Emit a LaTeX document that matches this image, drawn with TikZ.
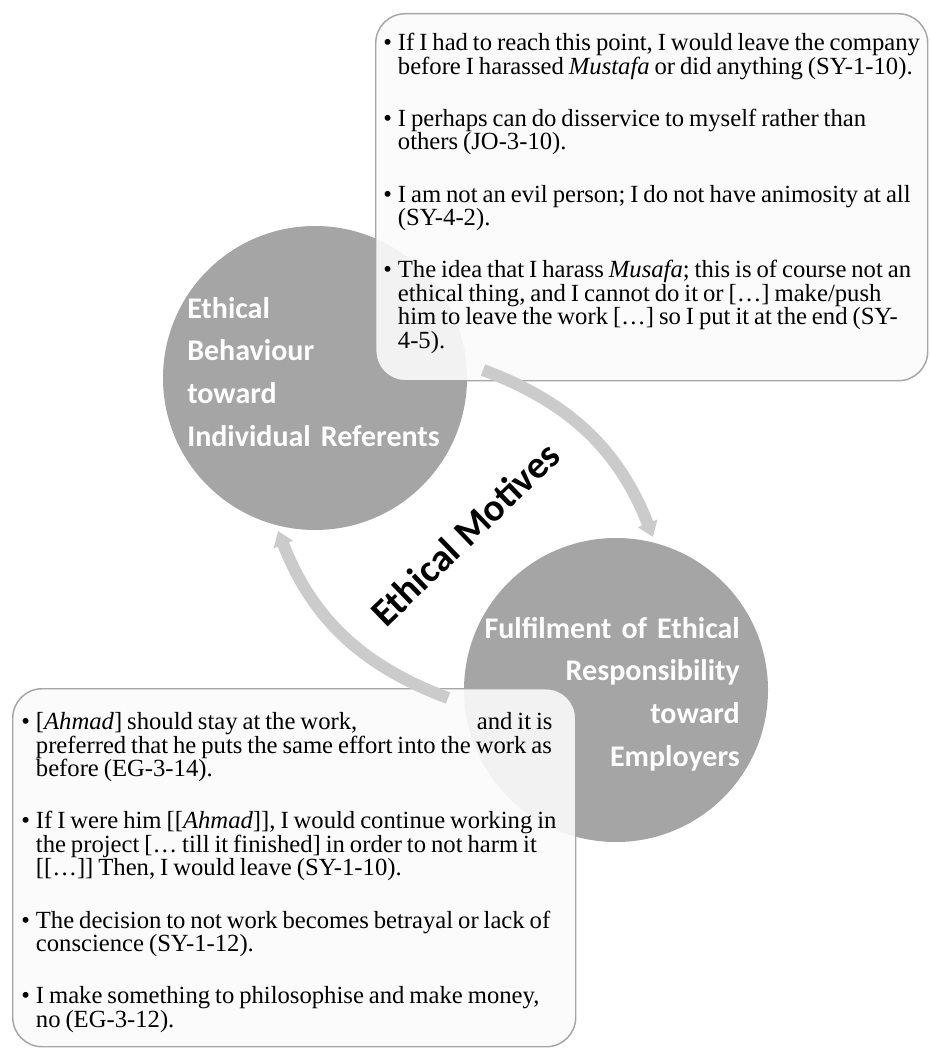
\documentclass[tikz,border=0pt]{standalone}
\usepackage{fontspec}
\setmainfont{Liberation Serif}
\newfontfamily\calibri{Carlito}
\usetikzlibrary{arrows.meta}
\definecolor{CircleGray}{HTML}{A5A5A5}
\definecolor{ArcGray}{HTML}{CBCBCB}
\definecolor{BoxEdge}{HTML}{A6A6A6}
\definecolor{BoxFill}{HTML}{FBFBFB}
\newcommand{\qitem}{\par\hangindent=11pt\hangafter=1\noindent\makebox[11pt][l]{\textbullet}}
\newcommand{\qgap}{\par\vskip 21.6pt}
\newcommand{\qbreak}{\hfil\break}

\begin{document}
\begin{tikzpicture}[x=.75pt,y=-.75pt,
  circlenode/.style={circle,fill=CircleGray,minimum size=228pt,inner sep=0pt},
  circlelabel/.style={font=\calibri\bfseries\fontsize{22.5}{32}\selectfont,text=white,inner sep=0pt,text width=210pt},
  quotebox/.style={draw=BoxEdge,line width=1.1pt,fill=BoxFill,fill opacity=.9,rounded corners=22pt,inner sep=0pt,anchor=north west},
  quotetext/.style={font=\fontsize{18.5}{17.6}\selectfont,inner sep=0pt,text width=425pt,align=left,anchor=north west},
  cyclearrow/.style={ArcGray,line width=9pt,-{Triangle[width=15pt,length=11pt]}}]
\useasboundingbox (0,0) rectangle (930,1048);

% Kreise
\node[circlenode] (refcircle) at (315,378) {};
\node[circlenode] (empcircle) at (616,690) {};

% Zitatboxen
\node[quotebox,minimum width=414pt,minimum height=275.25pt] (topbox) at (375,13) {};
\node[quotebox,minimum width=422.25pt,minimum height=268.5pt] (bottombox) at (12,688) {};

% Pfeile
\coordinate (rtail) at (483,370);
\coordinate (rhead) at (653,537);
\coordinate (ltail) at (448,698);
\coordinate (lhead) at (278,531);
\draw[cyclearrow] (rtail) to[bend left=24] (rhead);
\draw[cyclearrow] (ltail) to[bend left=24] (lhead);

% Beschriftungen
\node[circlelabel,align=left,anchor=base west] (reflabel) at (187,318)
  {Ethical\\Behaviour\\toward\\Individual Referents};
\node[circlelabel,align=right,anchor=base east] (emplabel) at (740,638)
  {Fulfilment of Ethical\\Responsibility\\toward\\Employers};
\node[rotate=44,inner sep=0pt,font=\calibri\bfseries\fontsize{29}{34}\selectfont] (motives) at (465,534) {Ethical Motives};

% Zitate
\node[quotetext] (topquotes) at (383,27) {\spaceskip=.2em plus .1em minus .02em
\qitem If I had to reach this point, I would leave the company\qbreak before I harassed \textit{Mustafa} or did anything (SY-1-10).
\qgap\qitem I perhaps can do disservice to myself rather than\qbreak others (JO-3-10).
\qgap\qitem I am not an evil person; I do not have animosity at all\qbreak (SY-4-2).
\qgap\qitem The idea that I harass \textit{Musafa}; this is of course not an\qbreak ethical thing, and I cannot do it or […] make/push\qbreak him to leave the work […] so I put it at the end (SY-\qbreak 4-5).\par};
\node[quotetext] (bottomquotes) at (21,706) {\spaceskip=.2em plus .1em minus .02em
\qitem [\textit{Ahmad}] should stay at the work,\hspace{86pt} and it is\qbreak preferred that he puts the same effort into the work as\qbreak before (EG-3-14).
\qgap\qitem If I were him [[\textit{Ahmad}]], I would continue working in\qbreak the project [… till it finished] in order to not harm it\qbreak [[…]] Then, I would leave (SY-1-10).
\qgap\qitem The decision to not work becomes betrayal or lack of\qbreak conscience (SY-1-12).
\qgap\qitem I make something to philosophise and make money,\qbreak no (EG-3-12).\par};
\end{tikzpicture}
\end{document}
